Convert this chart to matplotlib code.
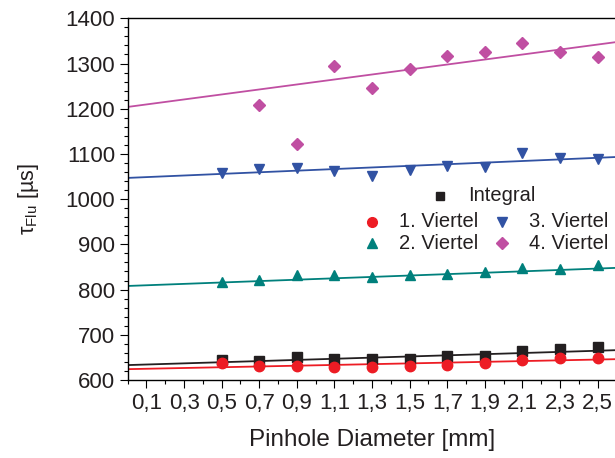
import numpy as np
import matplotlib
matplotlib.use('Agg')
import matplotlib.pyplot as plt
from matplotlib.ticker import MultipleLocator, FixedLocator, FuncFormatter

plt.rcParams['font.family'] = ['Liberation Sans', 'DejaVu Sans']
plt.rcParams['mathtext.fontset'] = 'custom'
plt.rcParams['mathtext.rm'] = 'Liberation Sans'
plt.rcParams['mathtext.it'] = 'Liberation Sans:italic'

# Messwerte
durchmesser = [0.5, 0.7, 0.9, 1.1, 1.3, 1.5, 1.7, 1.9, 2.1, 2.3, 2.5]
integral = [645, 642, 650, 646, 646, 646, 654, 653, 665, 668, 673]
viertel_1 = [638, 631, 632, 628, 628, 632, 633, 637, 645, 648, 649]
viertel_2 = [817, 821, 832, 832, 828, 832, 834, 838, 847, 845, 854]
viertel_3 = [1057, 1066, 1070, 1063, 1052, 1064, 1073, 1072, 1101, 1090, 1088]
durchmesser_4 = [0.7, 0.9, 1.1, 1.3, 1.5, 1.7, 1.9, 2.1, 2.3, 2.5]
viertel_4 = [1208, 1123, 1295, 1246, 1288, 1317, 1326, 1345, 1325, 1315]

# lineare Fits: Achsenabschnitt und Steigung
fit_achse = [633, 624, 808, 1047, 1204]
fit_steigung = [12.7, 8.5, 15.4, 17.8, 55.2]

namen = ['Integral', '1. Viertel', '2. Viertel', '3. Viertel', '4. Viertel']
farben = ['#231f20', '#ed1c24', '#00807c', '#3152a3', '#c04fa2']
marker = ['s', 'o', '^', 'v', 'D']
groesse = [6.5, 7.5, 7.5, 7.5, 6.5]

x_werte = [durchmesser, durchmesser, durchmesser, durchmesser, durchmesser_4]
y_werte = [integral, viertel_1, viertel_2, viertel_3, viertel_4]

fig = plt.figure(figsize=(6.15, 4.58), dpi=100)
ax = fig.add_axes([0.2076, 0.1703, 0.7948, 0.7897])

x_fit = np.linspace(0, 2.6, 50)
for i in range(5):
    ax.plot(x_fit, fit_achse[i] + fit_steigung[i] * x_fit, color=farben[i], lw=1.3, zorder=2)
for i in range(5):
    ax.plot(x_werte[i], y_werte[i], ls='none', marker=marker[i], ms=groesse[i],
            color=farben[i], mec=farben[i], zorder=3)

ax.set_xlim(0, 2.6)
ax.set_ylim(600, 1400)
ax.xaxis.set_major_locator(FixedLocator(np.arange(0.1, 2.6, 0.2)))
ax.xaxis.set_minor_locator(FixedLocator(np.arange(0, 2.61, 0.2)))
ax.xaxis.set_major_formatter(FuncFormatter(lambda v, p: f'{v:.1f}'.replace('.', ',')))
ax.yaxis.set_major_locator(MultipleLocator(100))
ax.yaxis.set_minor_locator(MultipleLocator(20))

ax.tick_params(which='major', direction='out', length=5.5, width=0.8, labelsize=16, labelcolor='#231f20')
ax.tick_params(which='minor', direction='out', length=2.8, width=0.8)
ax.tick_params(axis='x', which='major', pad=4)
ax.tick_params(top=False, right=False)
ax.spines['right'].set_visible(False)
for s in ['left', 'top', 'bottom']:
    ax.spines[s].set_linewidth(1.0)

ax.set_xlabel('Pinhole Diameter [mm]', fontsize=17.5, labelpad=11, color='#231f20')
ax.set_ylabel(r'τ$_{\rm Flu}$ [µs]', fontsize=15.5, labelpad=18, color='#231f20')

# Legende von Hand gesetzt
eintraege = [(0.639, 0.509), (0.499, 0.438), (0.499, 0.378), (0.765, 0.438), (0.765, 0.378)]
for i, (lx, ly) in enumerate(eintraege):
    ax.plot([lx], [ly], marker=marker[i], ms=groesse[i] - 0.5, color=farben[i],
            ls='none', transform=ax.transAxes, clip_on=False)
    ax.text(lx + 0.057, ly, namen[i], transform=ax.transAxes, fontsize=14.5,
            va='center', ha='left', color='#231f20')

fig.savefig('out.png', dpi=100)
